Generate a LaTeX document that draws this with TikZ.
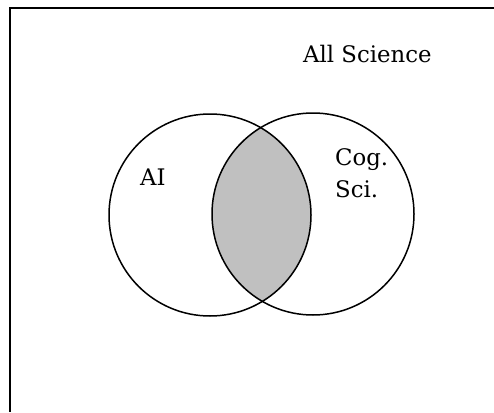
\documentclass[tikz,border=0pt]{standalone}
\usepackage{fontspec}
\setmainfont{DejaVu Serif}
\begin{document}
\begin{tikzpicture}[x=1pt,y=-1pt,
  frameline/.style={line width=2pt,black},
  setline/.style={line width=1.5pt,black},
  lbl/.style={anchor=base west,inner sep=0pt,font=\fontsize{22.8}{27}\selectfont}]
\useasboundingbox (0,0) rectangle (494,412);
\fill[white] (0,0) rectangle (494,412);
% intersection (lens)
\begin{scope}
  \clip (210,215) circle[radius=101];
  \fill[fill={rgb,255:red,192;green,192;blue,192}] (313,214) circle[radius=101];
\end{scope}
\draw[setline] (210,215) circle[radius=101];
\draw[setline] (313,214) circle[radius=101];
% frame (top and left edges)
\coordinate (tl) at (9.5,8.5);
\coordinate (tr) at (494,8.5);
\coordinate (bl) at (9.5,412);
\draw[frameline] (tr) -- (tl) -- (bl);
% labels
\node[lbl] (all) at (303,62) {All Science};
\node[lbl] (ai) at (140,185) {AI};
\node[lbl] (cog) at (335,165) {Cog.};
\node[lbl] (sci) at (335,197) {Sci.};
\end{tikzpicture}
\end{document}
